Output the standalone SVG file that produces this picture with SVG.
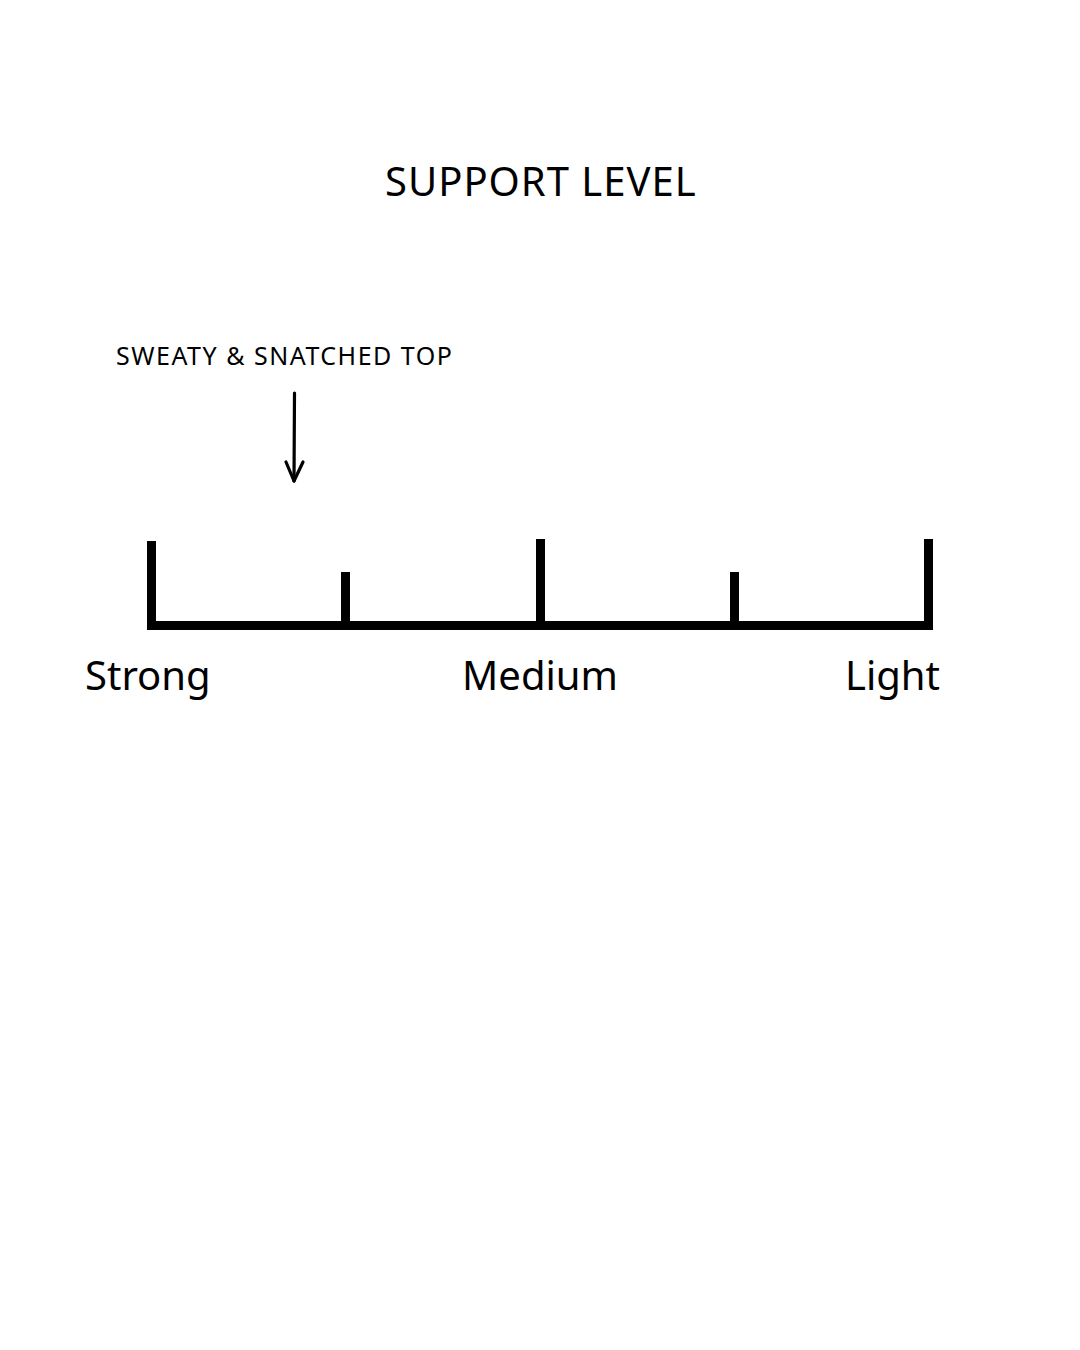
<svg xmlns="http://www.w3.org/2000/svg" width="1080" height="1350" viewBox="0 0 1080 1350">
<style>
text{font-family:"Noto Sans","Open Sans","Liberation Sans",sans-serif;fill:#000}
.lbl{font-size:40px}
.bar{fill:#000}
.arr{fill:none;stroke:#000;stroke-width:3.2;stroke-linecap:round;stroke-linejoin:round}
</style>
<rect width="1080" height="1350" fill="#fff"/>
<g id="title"><text x="385" y="196" font-size="40" letter-spacing="1">SUPPORT LEVEL</text></g>
<g id="product-label"><text x="116" y="365" font-size="25" letter-spacing="1.5">SWEATY &amp; SNATCHED TOP</text></g>
<g id="scale">
<rect class="bar" x="147" y="621" width="786" height="9"/>
<rect class="bar" x="147" y="541" width="9" height="89"/>
<rect class="bar" x="341" y="572" width="9" height="58"/>
<rect class="bar" x="536" y="539" width="9" height="91"/>
<rect class="bar" x="730" y="572" width="9" height="58"/>
<rect class="bar" x="924" y="539" width="9" height="91"/>
</g>
<g id="label-strong"><text class="lbl" x="85" y="690">Strong</text></g>
<g id="label-medium"><text class="lbl" x="540" y="690" text-anchor="middle">Medium</text></g>
<g id="label-light"><text class="lbl" x="940" y="690" text-anchor="end">Light</text></g>
<g id="connectors">
<path class="arr" d="M294.5 393 L294 481"/>
<path class="arr" d="M286 462 L294 481 L303 462"/>
</g>
</svg>
